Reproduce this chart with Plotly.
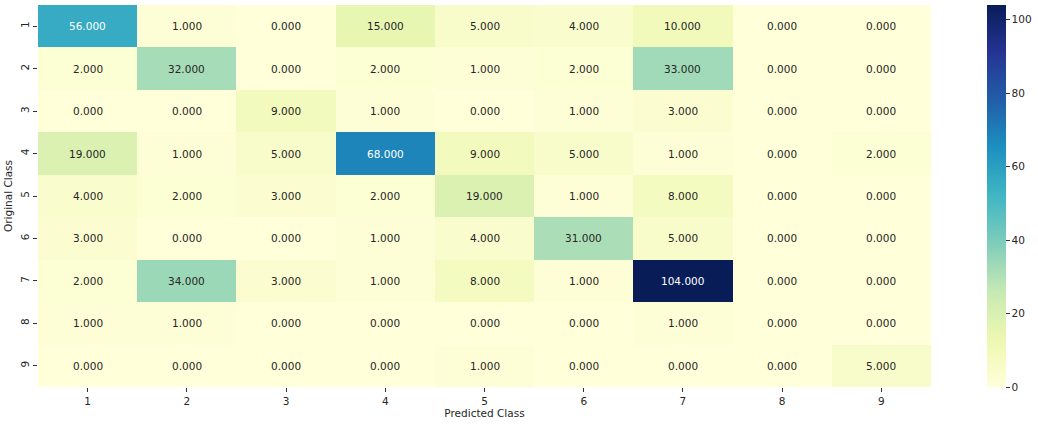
import plotly.graph_objects as go

classes = [1, 2, 3, 4, 5, 6, 7, 8, 9]
class_labels = ["1", "2", "3", "4", "5", "6", "7", "8", "9"]
matrix = [
    [56, 1, 0, 15, 5, 4, 10, 0, 0],
    [2, 32, 0, 2, 1, 2, 33, 0, 0],
    [0, 0, 9, 1, 0, 1, 3, 0, 0],
    [19, 1, 5, 68, 9, 5, 1, 0, 2],
    [4, 2, 3, 2, 19, 1, 8, 0, 0],
    [3, 0, 0, 1, 4, 31, 5, 0, 0],
    [2, 34, 3, 1, 8, 1, 104, 0, 0],
    [1, 1, 0, 0, 0, 0, 1, 0, 0],
    [0, 0, 0, 0, 1, 0, 0, 0, 5],
]
colorbar_ticks = [0, 20, 40, 60, 80, 100]

ylgnbu = ["#ffffd9", "#edf8b1", "#c7e9b4", "#7fcdbb", "#41b6c4",
          "#1d91c0", "#225ea8", "#253494", "#081d58"]
cscale = [[i / (len(ylgnbu) - 1), c] for i, c in enumerate(ylgnbu)]

zmax = max(max(r) for r in matrix)

fig = go.Figure()
fig.add_trace(go.Heatmap(
    z=matrix, x=classes, y=classes,
    colorscale=cscale, zmin=0, zmax=zmax,
    colorbar=dict(
        x=(987 - 38) / 893, xanchor="left", xpad=0, ypad=0,
        y=0, yanchor="bottom", len=1,
        lenmode="fraction", thickness=19, outlinewidth=0,
        tickvals=colorbar_ticks, ticks="outside", ticklen=4,
        tickcolor="#333", tickfont=dict(family="DejaVu Sans", size=10.5, color="#262626"),
    ),
    hoverinfo="skip",
))

annotations = []
for i, row in enumerate(matrix):
    for j, v in enumerate(row):
        color = "#ffffff" if v / zmax > 0.5 else "#262626"
        annotations.append(dict(
            x=classes[j], y=classes[i], xref="x", yref="y",
            text=f"{v:.3f}", showarrow=False,
            font=dict(family="DejaVu Sans", size=10.5, color=color),
        ))

fig.update_layout(
    width=1038, height=425,
    margin=dict(l=38, r=107, t=5, b=38, autoexpand=False),
    paper_bgcolor="white", plot_bgcolor="white",
    annotations=annotations,
    font=dict(family="DejaVu Sans", size=10.5, color="#262626"),
    xaxis=dict(
        title=dict(text="Predicted Class", standoff=4, font=dict(size=10.5)),
        tickvals=classes, ticktext=class_labels, range=[0.5, 9.5],
        ticks="outside", ticklen=4, tickcolor="#333", showgrid=False,
        zeroline=False, showline=False,
    ),
    yaxis=dict(
        title=dict(text="Original Class", standoff=4, font=dict(size=10.5)),
        tickvals=classes, ticktext=class_labels, range=[9.5, 0.5],
        ticks="outside", ticklen=4, tickcolor="#333",
        tickangle=-90, showgrid=False, zeroline=False, showline=False,
    ),
)

fig.write_html("out.html")
